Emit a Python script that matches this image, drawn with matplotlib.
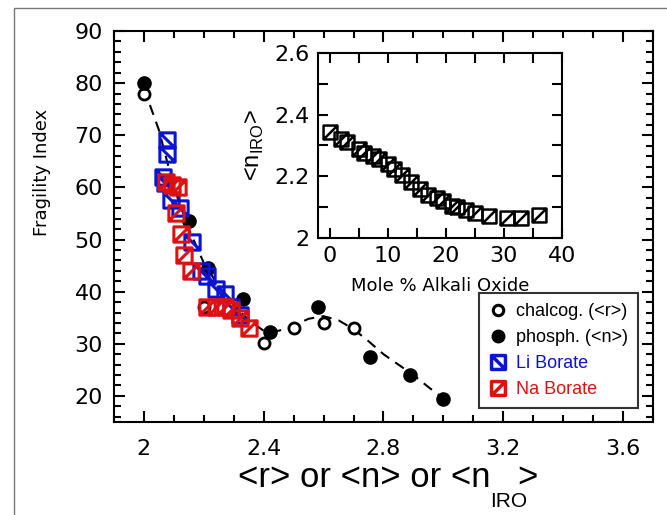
import numpy as np
import matplotlib
matplotlib.use("Agg")
import matplotlib.pyplot as plt
from matplotlib.path import Path
from matplotlib.lines import Line2D
from matplotlib.ticker import MultipleLocator

# chalcogenide glasses, fragility vs <r>
chalc_x = [2.0, 2.2, 2.4, 2.5, 2.6, 2.7]
chalc_y = [78.0, 37.0, 30.2, 33.0, 34.0, 33.0]

# phosphate glasses, fragility vs <n>
phos_x = [2.0, 2.15, 2.215, 2.33, 2.42, 2.58, 2.755, 2.89, 3.0]
phos_y = [80.0, 53.5, 44.5, 38.5, 32.3, 37.0, 27.5, 24.0, 19.5]

# Li borate, fragility vs <n_IRO>
li_x = [2.077, 2.077, 2.065, 2.07, 2.09, 2.12, 2.16, 2.19, 2.21, 2.24, 2.27, 2.29, 2.32]
li_y = [69.0, 66.5, 62.0, 60.8, 57.5, 56.0, 49.5, 44.0, 43.0, 40.5, 39.5, 37.0, 35.5]

# Na borate, fragility vs <n_IRO>
na_x = [2.075, 2.095, 2.115, 2.107, 2.125, 2.134, 2.158, 2.21, 2.24, 2.27, 2.29, 2.32, 2.35]
na_y = [61.0, 60.5, 60.0, 55.0, 51.0, 47.0, 44.0, 37.0, 37.0, 37.0, 36.5, 35.0, 33.0]

# guide-to-the-eye dashed curve
guide_x = [2.0, 2.05, 2.1, 2.15, 2.2, 2.25, 2.3, 2.35, 2.4, 2.45, 2.5, 2.55,
           2.6, 2.65, 2.7, 2.75, 2.8, 2.85, 2.9, 2.95, 3.0]
guide_y = [79.0, 71.0, 60.0, 52.0, 45.5, 41.0, 37.5, 34.5, 32.5, 32.5, 33.5, 34.8,
           35.3, 34.5, 32.8, 30.5, 28.0, 26.0, 24.0, 21.7, 19.5]

# inset: <n_IRO> vs mole % alkali oxide
ins_x = [0, 2, 3, 5, 6, 7.5, 8.5, 10, 11, 12.5, 14, 15.5, 17, 18.5, 19.5,
         21, 22, 23.5, 25, 27.5, 30.5, 33, 36]
ins_y = [2.345, 2.32, 2.31, 2.29, 2.275, 2.265, 2.255, 2.24, 2.225, 2.205, 2.18,
         2.16, 2.14, 2.13, 2.12, 2.105, 2.10, 2.09, 2.08, 2.07, 2.065, 2.065, 2.075]

C = Path.CLOSEPOLY
M = Path.MOVETO
L = Path.LINETO
sq = [(-0.5, -0.5), (0.5, -0.5), (0.5, 0.5), (-0.5, 0.5), (-0.5, -0.5)]
back_sq = Path(sq + [(-0.5, 0.5), (0.5, -0.5)], [M, L, L, L, C, M, L])   # "\"
fwd_sq = Path(sq + [(-0.5, -0.5), (0.5, 0.5)], [M, L, L, L, C, M, L])    # "/"

blue = "#0a14d2"
red = "#e01010"

W, H = 667, 515
fig = plt.figure(figsize=(W / 100, H / 100), dpi=100)
ax = fig.add_axes([0.1709, 0.1806, 0.8081, 0.7592])

ax.plot(guide_x, guide_y, ls=(0, (5, 3.5)), color="black", lw=1.5, zorder=1)
ax.plot(li_x, li_y, ls="none", marker=back_sq, ms=11, mfc="none", mec=blue, mew=2.2, zorder=3)
ax.plot(na_x, na_y, ls="none", marker=fwd_sq, ms=11, mfc="none", mec=red, mew=2.2, zorder=4)
ax.plot(chalc_x, chalc_y, ls="none", marker="o", ms=8, mfc="white", mec="black", mew=2, zorder=2)
ax.plot(phos_x, phos_y, ls="none", marker="o", ms=9.5, mfc="black", mec="black", zorder=2)

ax.set_xlim(1.9, 3.7)
ax.set_ylim(15, 90)
ax.xaxis.set_minor_locator(MultipleLocator(0.1))
ax.yaxis.set_major_locator(MultipleLocator(10))
ax.yaxis.set_minor_locator(MultipleLocator(2))
ax.set_xticks([2.0, 2.4, 2.8, 3.2, 3.6])
ax.set_xticklabels(["2", "2.4", "2.8", "3.2", "3.6"])
ax.tick_params(which="both", direction="in", top=True, right=True, width=1.5, labelsize=16)
ax.tick_params(which="major", length=8)
ax.tick_params(which="minor", length=5)
ax.tick_params(axis="x", which="major", pad=12)
ax.tick_params(axis="y", which="major", pad=8)
for s in ax.spines.values():
    s.set_linewidth(1.5)

ax.set_ylabel("Fragility Index", fontsize=13)
ax.yaxis.set_label_coords(-0.117, 0.637)

handles = [
    Line2D([], [], ls="none", marker="o", ms=7.5, mfc="white", mec="black", mew=2.2),
    Line2D([], [], ls="none", marker="o", ms=9, mfc="black", mec="black"),
    Line2D([], [], ls="none", marker=back_sq, ms=10, mfc="none", mec=blue, mew=2.5),
    Line2D([], [], ls="none", marker=fwd_sq, ms=10, mfc="none", mec=red, mew=2.5),
]
labels = ["chalcog. (<r>)", "phosph. (<n>)", "Li Borate", "Na Borate"]
leg = ax.legend(handles, labels, loc="lower right", bbox_to_anchor=(0.972, 0.036),
                borderaxespad=0, prop={"family": "Liberation Sans", "size": 13},
                frameon=True, fancybox=False, handletextpad=0.5,
                handlelength=1.0, labelspacing=0.5, borderpad=0.55)
leg.get_frame().set_edgecolor("black")
leg.get_frame().set_linewidth(1.5)
leg.texts[2].set_color(blue)
leg.texts[3].set_color(red)

# inset
ins = fig.add_axes([0.4768, 0.5379, 0.3658, 0.3592])
ins.plot(ins_x, ins_y, ls="none", marker=fwd_sq, ms=10, mfc="none", mec="black", mew=1.8)
ins.set_xlim(-2, 40)
ins.set_ylim(2.0, 2.6)
ins.xaxis.set_major_locator(MultipleLocator(10))
ins.xaxis.set_minor_locator(MultipleLocator(5))
ins.yaxis.set_minor_locator(MultipleLocator(0.1))
ins.set_yticks([2.0, 2.2, 2.4, 2.6])
ins.set_yticklabels(["2", "2.2", "2.4", "2.6"])
ins.tick_params(which="both", direction="in", top=True, right=True, width=1.5, labelsize=16)
ins.tick_params(which="major", length=7, pad=6)
ins.tick_params(which="minor", length=7)
for s in ins.spines.values():
    s.set_linewidth(1.5)
ins.set_xlabel("Mole % Alkali Oxide", fontsize=13, labelpad=8)
ins.set_ylabel(r"<n$_{\mathregular{IRO}}$>", fontsize=17, family="Liberation Sans", labelpad=6)

# big x label with a large, well-dropped subscript, built from three texts
fig.canvas.draw()
rend = fig.canvas.get_renderer()
lab_font = dict(family="Liberation Sans", color="black")
base_y = 1 - 487 / H
t_main = fig.text(0, base_y, "<r> or <n> or <n", fontsize=25, va="baseline", **lab_font)
t_sub = fig.text(0, base_y - 20 / H, "IRO", fontsize=15, va="baseline", **lab_font)
t_end = fig.text(0, base_y, ">", fontsize=25, va="baseline", **lab_font)
w_main = t_main.get_window_extent(rend).width
w_sub = t_sub.get_window_extent(rend).width
w_end = t_end.get_window_extent(rend).width
overlap = 10
total = w_main + w_sub + w_end - overlap
x0 = (114 + 653) / 2 + 4 - total / 2
t_main.set_x(x0 / W)
t_sub.set_x((x0 + w_main) / W)
t_end.set_x((x0 + w_main + w_sub - overlap) / W)

# grey frame around the figure
fig.patches.append(plt.Rectangle((14 / W, -0.01), 0.99, 1 - 8 / H + 0.01,
                                 transform=fig.transFigure, fill=False,
                                 edgecolor="#777777", lw=1))

fig.savefig("out.png", dpi=100)
